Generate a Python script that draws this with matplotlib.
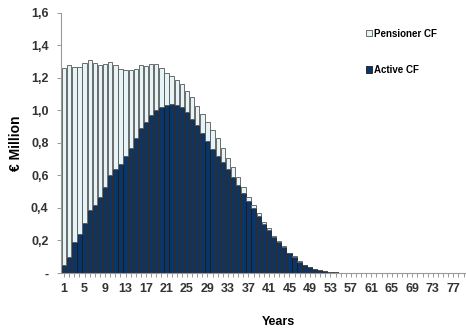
import matplotlib.pyplot as plt
import numpy as np

plt.rcParams['font.family'] = ['Liberation Sans', 'DejaVu Sans']

years = np.arange(1, 80)

# Active CF (€ million)
active = [0.05, 0.10, 0.19, 0.24, 0.31, 0.39, 0.42, 0.47, 0.53, 0.60,
          0.64, 0.67, 0.72, 0.77, 0.83, 0.89, 0.93, 0.97, 1.00, 1.02,
          1.035, 1.04, 1.035, 1.02, 0.99, 0.95, 0.91, 0.86, 0.81, 0.76,
          0.72, 0.68, 0.64, 0.59, 0.54, 0.49, 0.44, 0.40, 0.35, 0.30,
          0.265, 0.22, 0.19, 0.16, 0.12, 0.10, 0.07, 0.05, 0.035, 0.025,
          0.016, 0.011, 0.008, 0.005, 0.003, 0.002, 0.001, 0.001, 0.001, 0.001,
          0.001, 0.001, 0.001, 0.001, 0.001, 0, 0, 0, 0, 0,
          0, 0, 0, 0, 0, 0, 0, 0, 0]

# Pensioner CF (€ million)
pensioner = [1.21, 1.18, 1.075, 1.03, 0.98, 0.92, 0.87, 0.81, 0.755, 0.70,
             0.64, 0.585, 0.53, 0.48, 0.425, 0.39, 0.345, 0.315, 0.285, 0.24,
             0.195, 0.17, 0.155, 0.14, 0.13, 0.13, 0.12, 0.12, 0.12, 0.12,
             0.11, 0.09, 0.07, 0.06, 0.05, 0.04, 0.03, 0.02, 0.02, 0.015,
             0.01, 0.008, 0.006, 0.005, 0.003, 0.003, 0.003, 0.002, 0.002, 0.001,
             0, 0, 0, 0, 0, 0, 0, 0, 0, 0,
             0, 0, 0, 0, 0, 0, 0, 0, 0, 0,
             0, 0, 0, 0, 0, 0, 0, 0, 0]

fig = plt.figure(figsize=(4.66, 3.36), dpi=100)
ax = fig.add_axes([0.131, 0.1875, 0.867, 0.774])

ax.bar(years, active, width=0.85, color='#0b3566', edgecolor='#1a1a1a',
       linewidth=0.6, label='Active CF')
ax.bar(years, pensioner, bottom=active, width=0.85, color='#e6f3f7',
       edgecolor='#555555', linewidth=0.6, label='Pensioner CF')

ax.set_xlim(0.4, 79.3)
ax.set_ylim(0, 1.6)
ax.set_yticks(np.arange(0, 1.61, 0.2))
ax.set_yticklabels(['-'] + ['%.1f' % v for v in np.arange(0.2, 1.61, 0.2)])
ax.set_yticklabels([t.get_text().replace('.', ',') for t in ax.get_yticklabels()])
ax.set_xticks(np.arange(1, 80, 4))
ax.set_xticks(years, minor=True)
ax.tick_params(axis='x', which='both', length=3, width=0.6, color='#888888',
               labelsize=9, labelcolor='#333333', pad=4)
ax.tick_params(axis='y', length=3, width=0.6, color='#888888',
               labelsize=9, labelcolor='#333333', pad=6)
for lab in ax.get_xticklabels() + ax.get_yticklabels():
    lab.set_fontweight('bold')

for s in ['top', 'right']:
    ax.spines[s].set_visible(False)
ax.spines['left'].set_color('#999999')
ax.spines['bottom'].set_color('#999999')

ax.set_ylabel('€ Million', fontsize=10, fontweight='bold', labelpad=6)
fig.text(278 / 466, 1 - 322 / 336, 'Years', ha='center', va='center',
         fontsize=9, fontweight='bold')

h, l = ax.get_legend_handles_labels()
ax.legend(h[::-1], l[::-1], loc='upper left', frameon=False,
          bbox_to_anchor=(357 / 466, 1 - 20 / 336), bbox_transform=fig.transFigure,
          prop={'size': 7, 'weight': 'bold'}, handlelength=0.6, handleheight=0.6,
          handletextpad=0.2, labelspacing=2.7)

fig.savefig('out.png', dpi=100)
